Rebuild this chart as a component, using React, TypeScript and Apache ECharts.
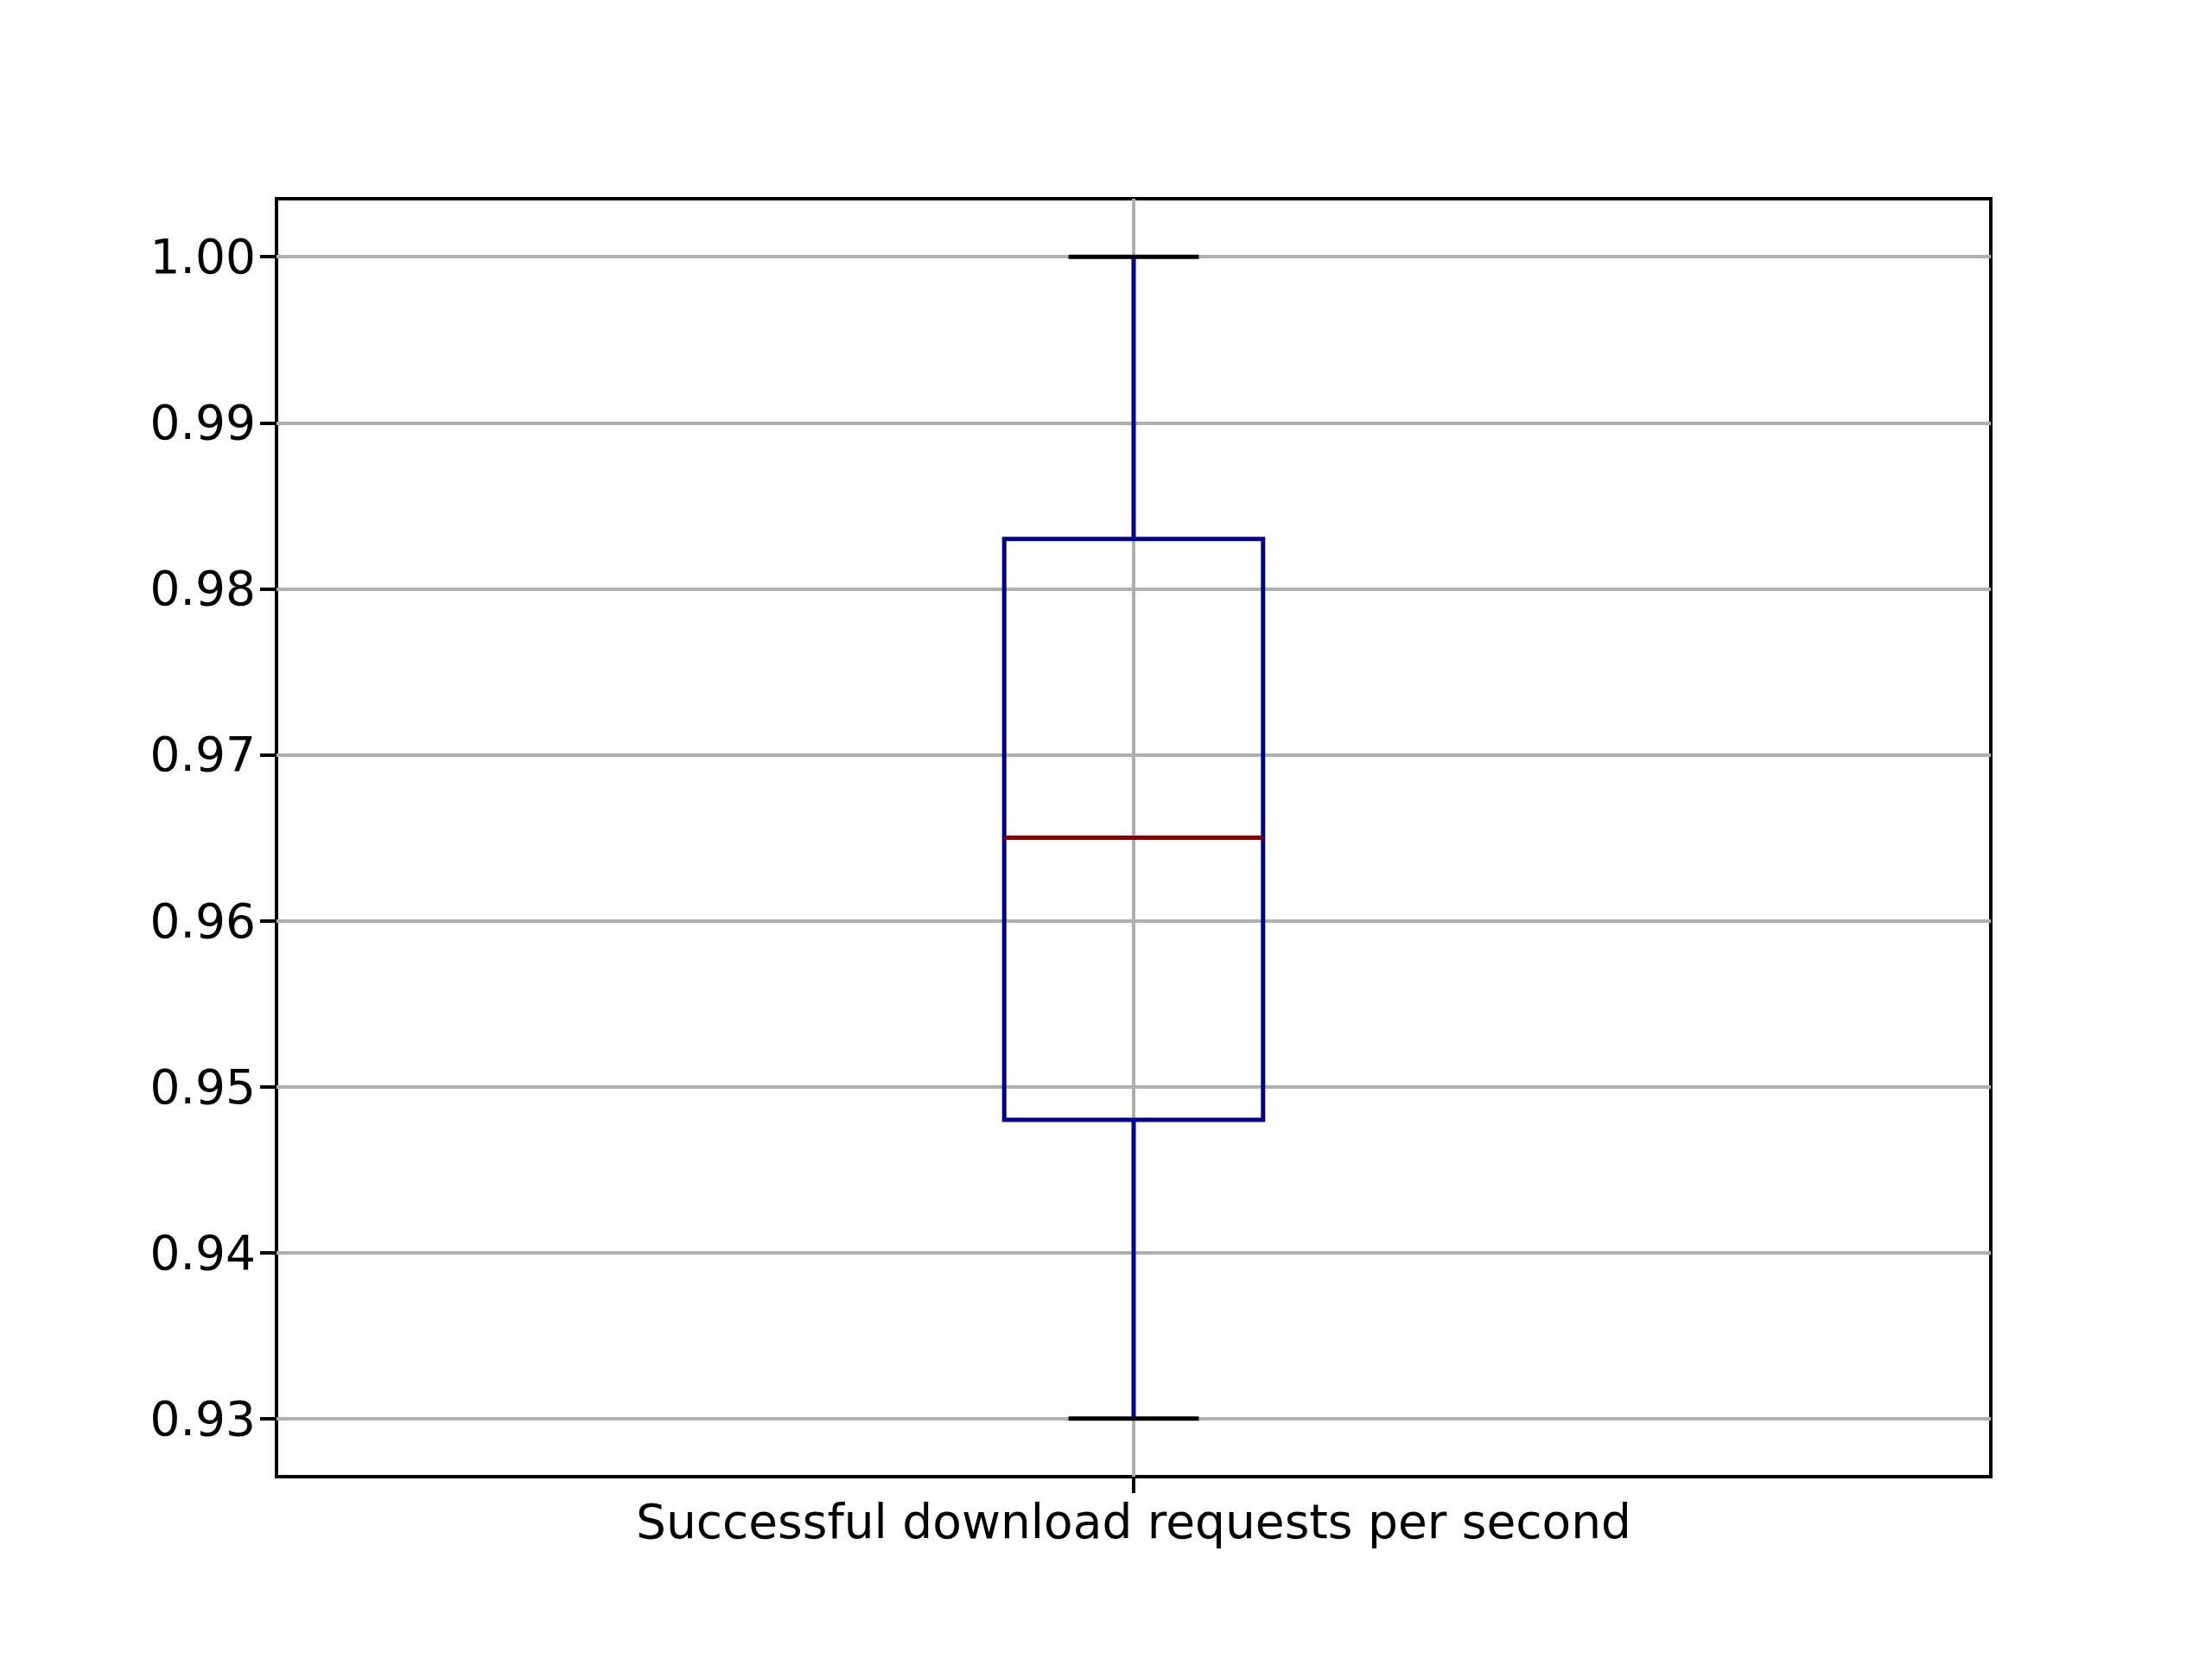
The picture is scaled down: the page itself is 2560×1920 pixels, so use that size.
import React, { useEffect, useRef } from "react";
import * as echarts from "echarts";

const categories = ["Successful download requests per second"];
// [min, q1, median, q3, max]
const boxValues = [[0.93, 0.948, 0.965, 0.983, 1.0]];
const yTicks = [0.93, 0.94, 0.95, 0.96, 0.97, 0.98, 0.99, 1.0];

const App = () => {
  const chartRef = useRef<HTMLDivElement>(null);

  useEffect(() => {
    document.body.style.margin = "0";
    const dom = chartRef.current;
    if (!dom) return;
    const chart = echarts.init(dom, null, { renderer: "svg" });
    const boxHalf = 0.151;
    const capHalf = 0.076;
    const lw = 5;
    const option: any = {
      animation: false,
      backgroundColor: "#ffffff",
      textStyle: { fontFamily: "DejaVu Sans" },
      grid: {
        left: 320, right: 256, top: 230, bottom: 211,
        show: true, borderColor: "#000", borderWidth: 4, backgroundColor: "transparent",
      },
      xAxis: {
        type: "value", min: 0, max: 2, interval: 1,
        axisLine: { show: false },
        axisTick: { show: true, customValues: [1], length: 19, lineStyle: { color: "#000", width: 4 } },
        axisLabel: {
          customValues: [1], formatter: () => categories[0],
          color: "#000", fontSize: 55, margin: 24, fontFamily: "DejaVu Sans",
        },
        splitLine: { show: true, lineStyle: { color: "#b0b0b0", width: 4 } },
      },
      yAxis: {
        type: "value", min: 0.9265, max: 1.0035,
        axisLine: { show: false },
        axisTick: { show: true, customValues: yTicks, length: 19, lineStyle: { color: "#000", width: 4 } },
        axisLabel: {
          customValues: yTicks, formatter: (v: number) => v.toFixed(2),
          color: "#000", fontSize: 55, margin: 24, fontFamily: "DejaVu Sans",
        },
        splitLine: { show: true, lineStyle: { color: "#b0b0b0", width: 4 } },
      },
      series: [
        {
          type: "custom",
          data: boxValues.map((v, i) => [i + 1, ...v]),
          renderItem: (params: any, api: any) => {
            const x = api.value(0);
            const [mn, q1, md, q3, mx] = [1, 2, 3, 4, 5].map((k) => api.value(k));
            const p = (xx: number, yy: number) => api.coord([xx, yy]);
            const ln = (a: number[], b: number[], color: string) => ({
              type: "line",
              shape: { x1: a[0], y1: a[1], x2: b[0], y2: b[1] },
              style: { stroke: color, lineWidth: lw },
            });
            const tl = p(x - boxHalf, q3);
            const br = p(x + boxHalf, q1);
            return {
              type: "group",
              children: [
                ln(p(x, q3), p(x, mx), "#00008b"),
                ln(p(x, q1), p(x, mn), "#00008b"),
                ln(p(x - capHalf, mx), p(x + capHalf, mx), "#000"),
                ln(p(x - capHalf, mn), p(x + capHalf, mn), "#000"),
                {
                  type: "rect",
                  shape: { x: tl[0], y: tl[1], width: br[0] - tl[0], height: br[1] - tl[1] },
                  style: { fill: "none", stroke: "#00008b", lineWidth: lw },
                },
                ln(p(x - boxHalf, md), p(x + boxHalf, md), "#8b0000"),
              ],
            };
          },
        },
      ],
    };
    chart.setOption(option);
    return () => chart.dispose();
  }, []);

  return <div ref={chartRef} style={{ width: 2560, height: 1920 }}></div>;
};

export default App;
